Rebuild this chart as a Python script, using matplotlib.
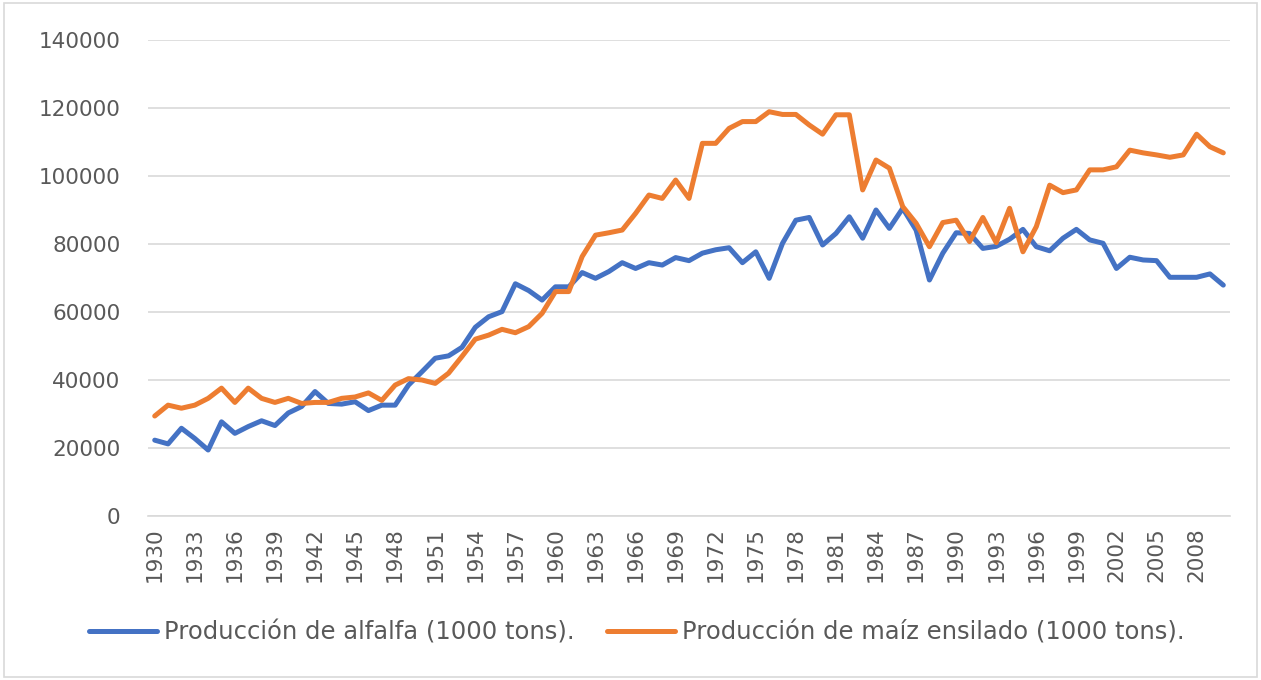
import numpy as np
import matplotlib.pyplot as plt
from matplotlib.patches import Rectangle

years = list(range(1930, 2011))

alfalfa = [22300, 21200, 25800, 22800, 19400, 27700, 24300, 26300, 28000, 26600,
           30300, 32200, 36600, 33100, 32900, 33600, 31000, 32600, 32600, 38500,
           42400, 46400, 47100, 49600, 55500, 58600, 60100, 68300, 66300, 63500,
           67400, 67400, 71600, 69900, 71900, 74500, 72800, 74500, 73800, 76000,
           75100, 77300, 78300, 78900, 74500, 77700, 69900, 80200, 87000, 87800,
           79700, 83100, 88000, 81700, 90000, 84600, 90500, 84100, 69400, 77300,
           83300, 83100, 78700, 79300, 81400, 84300, 79200, 78000, 81700, 84300,
           81200, 80200, 72800, 76100, 75300, 75100, 70200, 70200, 70200, 71200,
           67900]

maiz = [29400, 32600, 31700, 32600, 34600, 37600, 33400, 37600, 34600, 33400,
        34600, 33100, 33400, 33400, 34600, 35000, 36200, 34000, 38500, 40400,
        40000, 39000, 42000, 46900, 52000, 53200, 54900, 53900, 55700, 59600,
        66000, 66000, 76300, 82600, 83300, 84100, 89000, 94400, 93400, 98800,
        93400, 109600, 109600, 114000, 116000, 116000, 118900, 118100, 118100, 115000,
        112300, 118000, 118000, 95900, 104700, 102300, 91000, 86100, 79200, 86300,
        87000, 80700, 87800, 80400, 90500, 77700, 85100, 97300, 95100, 95900,
        101800, 101800, 102700, 107600, 106800, 106200, 105500, 106200, 112300, 108600,
        106800]

label_alfalfa = 'Producción de alfalfa (1000 tons).'
label_maiz = 'Producción de maíz ensilado (1000 tons).'

text_color = '#595959'
plt.rcParams['font.family'] = ['DejaVu Sans']

fig = plt.figure(figsize=(12.61, 6.80), dpi=100)
ax = fig.add_axes([0.1174, 0.2412, 0.858, 0.7])

x = np.arange(len(years))
ax.plot(x, alfalfa, color='#4472C4', lw=3.6, label=label_alfalfa, solid_capstyle='round')
ax.plot(x, maiz, color='#ED7D31', lw=3.6, label=label_maiz, solid_capstyle='round')

ax.set_xlim(-0.5, len(years) - 0.5)
ax.set_ylim(0, 140000)
ax.set_yticks(range(0, 140001, 20000))
ax.set_yticklabels([str(v) for v in range(0, 140001, 20000)])
ax.set_xticks(x[::3])
ax.set_xticklabels([str(y) for y in years[::3]], rotation=90)

ax.grid(axis='y', color='#d9d9d9', lw=1.2)
ax.set_axisbelow(True)
for s in ['top', 'right', 'left']:
    ax.spines[s].set_visible(False)
ax.spines['bottom'].set_color('#d9d9d9')
ax.spines['bottom'].set_linewidth(1.2)
ax.tick_params(axis='both', length=0, labelsize=15.5, colors=text_color)
ax.tick_params(axis='y', pad=20)
ax.tick_params(axis='x', pad=8)

fig.legend(loc='center', bbox_to_anchor=(0.505, 0.07), ncol=2, frameon=False,
           fontsize=17.5, labelcolor=text_color, handlelength=2.8,
           handletextpad=0.3, columnspacing=1.3)

fig.patches.append(Rectangle((0.003, 0.004), 0.994, 0.992, transform=fig.transFigure,
                             fill=False, edgecolor='#d9d9d9', lw=1.2))

fig.savefig('out.png', dpi=100)
